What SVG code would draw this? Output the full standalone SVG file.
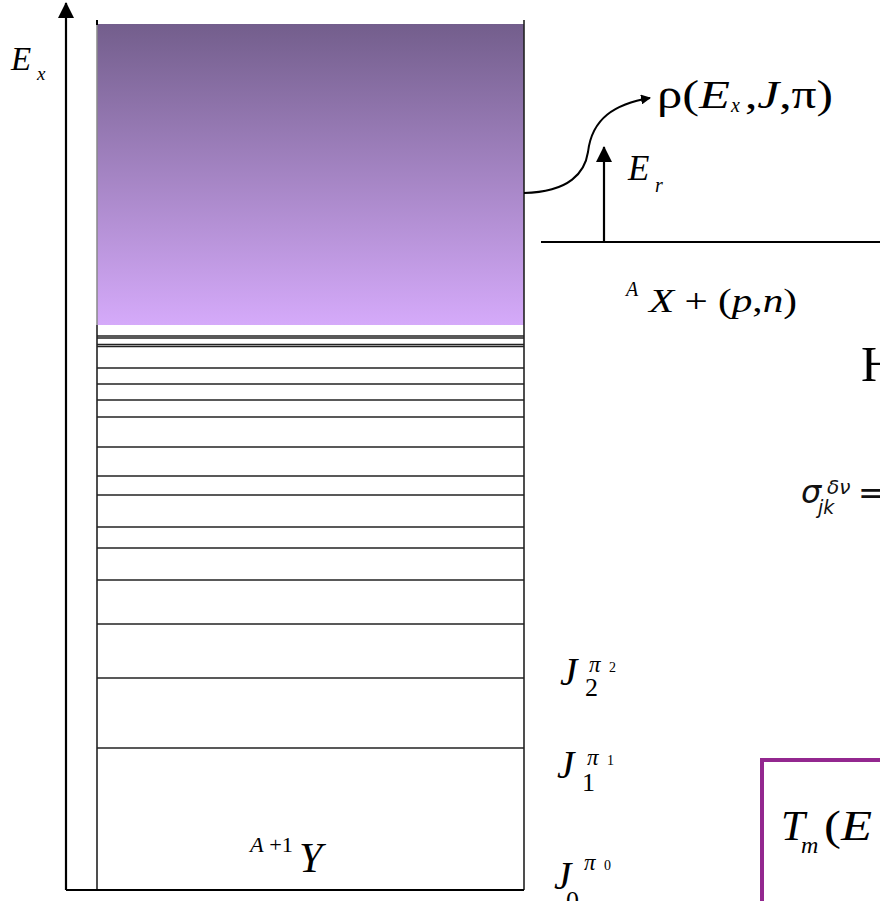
<svg xmlns="http://www.w3.org/2000/svg" width="880" height="901" viewBox="0 0 880 901">
<style>
text{font-family:"Liberation Serif","DejaVu Serif","Noto Serif",serif;fill:#000}
.i{font-style:italic}
.lv{stroke:#222;stroke-width:1.6;fill:none}
.ax{stroke:#000;stroke-width:2.2;fill:none}
text.s{font-family:"DejaVu Sans","Liberation Sans",sans-serif;font-style:italic;fill:#111}
</style>
<defs>
<linearGradient id="g" x1="0" y1="0" x2="0" y2="1">
<stop offset="0" stop-color="#735E8C"/>
<stop offset="1" stop-color="#D5AAFA"/>
</linearGradient>
<marker id="ah" viewBox="0 0 10 10" refX="9" refY="5" markerWidth="10" markerHeight="10" markerUnits="userSpaceOnUse" orient="auto">
<path d="M0,0 L10,5 L0,10 z" fill="#000"/>
</marker>
<marker id="ahb" viewBox="0 0 16 16" refX="15" refY="8" markerWidth="16" markerHeight="16" markerUnits="userSpaceOnUse" orient="auto">
<path d="M0,0 L16,8 L0,16 z" fill="#000"/>
</marker>
</defs>
<rect width="880" height="901" fill="#fff"/>

<g id="continuum">
<rect x="97" y="24" width="427" height="301" fill="url(#g)"/>
<line x1="97" y1="20" x2="97" y2="325" stroke="#888" stroke-width="1.5"/>
<line x1="97" y1="20" x2="97" y2="25" stroke="#000" stroke-width="2"/>
</g>

<g id="levels">
<line class="lv" x1="97" y1="325" x2="97" y2="890" stroke="#555"/>
<line class="lv" x1="524" y1="20" x2="524" y2="890"/>
<line class="lv" x1="97" y1="336" x2="524" y2="336"/>
<line class="lv" x1="97" y1="338" x2="524" y2="338" stroke="#777"/>
<line class="lv" x1="97" y1="344.5" x2="524" y2="344.5"/>
<line class="lv" x1="97" y1="346.5" x2="524" y2="346.5" stroke="#777"/>
<line class="lv" x1="97" y1="368" x2="524" y2="368"/>
<line class="lv" x1="97" y1="384" x2="524" y2="384"/>
<line class="lv" x1="97" y1="400" x2="524" y2="400"/>
<line class="lv" x1="97" y1="417" x2="524" y2="417"/>
<line class="lv" x1="97" y1="447" x2="524" y2="447"/>
<line class="lv" x1="97" y1="476" x2="524" y2="476"/>
<line class="lv" x1="97" y1="495" x2="524" y2="495"/>
<line class="lv" x1="97" y1="527" x2="524" y2="527"/>
<line class="lv" x1="97" y1="548" x2="524" y2="548"/>
<line class="lv" x1="97" y1="580" x2="524" y2="580"/>
<line class="lv" x1="97" y1="624" x2="524" y2="624"/>
<line class="lv" x1="97" y1="678" x2="524" y2="678"/>
<line class="lv" x1="97" y1="748" x2="524" y2="748"/>
<text x="250" y="852" font-size="20" textLength="43" lengthAdjust="spacingAndGlyphs"><tspan class="i">A</tspan> +1</text>
<text class="i" x="299" y="872" font-size="42">Y</text>
</g>

<g id="axes">
<line class="ax" x1="66" y1="890" x2="524" y2="890"/>
<line class="ax" x1="66" y1="890" x2="66" y2="3" marker-end="url(#ahb)"/>
<text class="i" x="11" y="70" font-size="33">E</text>
<text class="i" x="37" y="80" font-size="19">x</text>
</g>

<g id="connectors">
<path d="M524,193 C570,192 585,172 588,152 C592,118 615,104 650,98" fill="none" stroke="#000" stroke-width="2" marker-end="url(#ah)"/>
<line x1="604" y1="241" x2="604" y2="147" stroke="#000" stroke-width="2.2" marker-end="url(#ahb)"/>
</g>

<g id="rho">
<text x="657" y="108" font-size="39" textLength="73" lengthAdjust="spacingAndGlyphs">ρ(<tspan class="i">E</tspan></text>
<text class="i" x="731" y="112" font-size="20">x</text>
<text x="745" y="108" font-size="39" textLength="88" lengthAdjust="spacingAndGlyphs">,<tspan class="i">J</tspan>,π)</text>
</g>

<g id="Er">
<text class="i" x="628" y="180" font-size="35">E</text>
<text class="i" x="655" y="192" font-size="20">r</text>
</g>

<g id="target">
<line x1="541" y1="242" x2="880" y2="242" stroke="#000" stroke-width="2"/>
<text class="i" x="626" y="296" font-size="20">A</text>
<text x="649" y="312" font-size="34" textLength="148" lengthAdjust="spacingAndGlyphs"><tspan class="i">X</tspan> + (<tspan class="i">p</tspan>,<tspan class="i">n</tspan>)</text>
</g>

<g id="H">
<text x="861" y="381" font-size="50">H</text>
</g>

<g id="sigma">
<text class="s" x="801" y="503" font-size="32">σ</text>
<text class="s" x="827" y="494" font-size="20">δν</text>
<text class="s" x="818" y="514" font-size="19">jk</text>
<text class="s" x="858" y="504" font-size="32" font-style="normal">=</text>
</g>

<g id="J2">
<text class="i" x="560" y="685" font-size="39">J</text>
<text class="i" x="589" y="672" font-size="23">π</text>
<text x="609" y="672" font-size="14">2</text>
<text x="585" y="696" font-size="26">2</text>
</g>
<g id="J1">
<text class="i" x="557" y="778" font-size="39">J</text>
<text class="i" x="587" y="765" font-size="23">π</text>
<text x="607" y="765" font-size="14">1</text>
<text x="582" y="791" font-size="26">1</text>
</g>
<g id="J0">
<text class="i" x="554" y="889" font-size="39">J</text>
<text class="i" x="584" y="870" font-size="23">π</text>
<text x="604" y="870" font-size="14">0</text>
<text x="566" y="909" font-size="26">0</text>
</g>

<g id="Tm">
<rect x="762" y="760" width="200" height="200" fill="none" stroke="#93278F" stroke-width="4"/>
<text class="i" x="781" y="840" font-size="43">T</text>
<text class="i" x="801" y="853" font-size="24">m</text>
<text x="824" y="840" font-size="43" textLength="48" lengthAdjust="spacingAndGlyphs">(<tspan class="i">E</tspan></text>
</g>
</svg>
